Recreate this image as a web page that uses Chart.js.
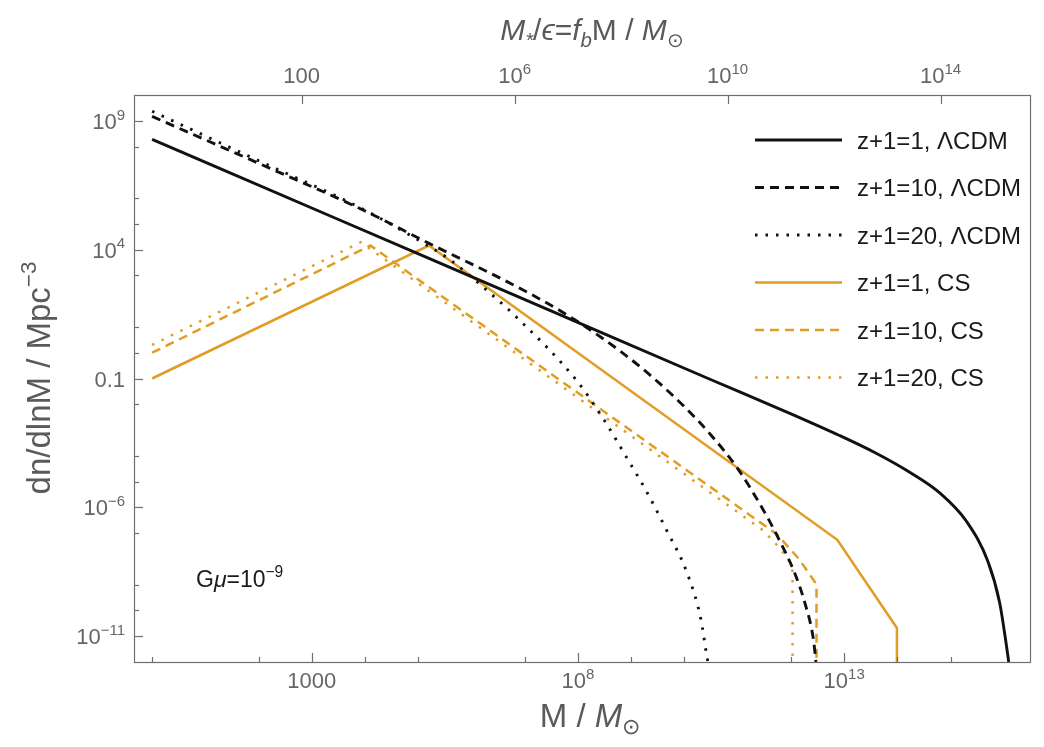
<!DOCTYPE html>
<html>
<head>
<meta charset="utf-8">
<script src="https://cdn.jsdelivr.net/npm/chart.js@4.4.0/dist/chart.umd.min.js"></script>
<style>
  html, body { margin: 0; padding: 0; background: #fff; }
</style>
</head>
<body>
<canvas id="myChart" width="1044" height="747"></canvas>
<script>
// values, stored as log10(M/Msun) and log10(dn/dlnM)
const lcdm1LogM = [0, 3.5, 7.1, 10.5, 12.0, 12.9, 13.6, 14.2, 14.8, 15.3, 15.7, 15.92, 16.05, 16.09]
const lcdm1LogN = [8.28, 5.17, 1.97, -1.05, -2.37, -3.2, -3.9, -4.6, -5.45, -6.55, -8.1, -9.7, -11.4, -12]

const lcdm10LogM = [0, 2, 3.98, 5.1, 7.1, 8.0, 8.8, 9.4, 10.0, 10.5, 11.0, 11.48, 11.74, 12.06, 12.26, 12.42, 12.47]
const lcdm10LogN = [9.17, 7.35, 5.52, 4.35, 2.29, 1.2, 0.05, -0.95, -2.1, -3.2, -4.5, -6.1, -7.1, -8.5, -9.7, -11.1, -12]

const lcdm20LogM = [0, 2, 3.98, 5.1, 5.6, 6.3, 6.86, 7.97, 8.49, 8.94, 9.27, 9.66, 10.05, 10.31, 10.41, 10.44]
const lcdm20LogN = [9.37, 7.45, 5.55, 4.25, 3.6, 2.4, 1.35, -1.07, -2.61, -4.16, -5.32, -6.87, -8.55, -10.36, -11.65, -12]

const cs1LogM = [0, 5.2, 12.87, 13.99, 13.99]
const cs1LogN = [-1, 4.16, -7.26, -10.68, -12]

const cs10LogM = [0, 4.1, 11.74, 12.15, 12.45, 12.48, 12.48]
const cs10LogN = [0, 4.16, -7.05, -8.0, -8.9, -9.1, -12]

const cs20LogM = [0, 3.92, 11.48, 11.8, 12.0, 12.03, 12.03]
const cs20LogN = [0.3, 4.29, -6.9, -7.6, -8.2, -8.5, -12]

const seriesLabels = ['z+1=1, \u039bCDM', 'z+1=10, \u039bCDM', 'z+1=20, \u039bCDM', 'z+1=1, CS', 'z+1=10, CS', 'z+1=20, CS']

// axis ticks
const fb = 0.155
const xMajor = [1e3, 1e8, 1e13]
const xMajorLabels = ['1000', '10^8', '10^13']
const xMinor = [1, 1e2, 1e4, 1e5, 1e7, 1e9, 1e10, 1e12, 1e14, 1e15]
const topMajor = [1e2, 1e6, 1e10, 1e14]
const topMajorLabels = ['100', '10^6', '10^10', '10^14']
const yMajor = [1e-11, 1e-6, 0.1, 1e4, 1e9]
const yMajorLabels = ['10^-11', '10^-6', '0.1', '10^4', '10^9']
const yMinor = [1e-10, 1e-9, 1e-7, 1e-5, 1e-4, 1e-2, 1, 10, 1e3, 1e5, 1e6, 1e8]

const xMin = Math.pow(10, -0.34)
const xMax = Math.pow(10, 16.49)
const yMin = 1e-12
const yMax = 1e10

const BLACK = '#111111'
const ORANGE = 'rgb(225,156,36)'
const DASH = [9, 6]
const DOT = [2.5, 8]

function toPoints(lm, ln) {
    return lm.map((m, i) => ({ x: Math.pow(10, m), y: Math.pow(10, ln[i]) }))
}

const datasets = [
    { label: seriesLabels[0], data: toPoints(lcdm1LogM, lcdm1LogN), borderColor: BLACK, borderWidth: 2.9, borderDash: [], cubicInterpolationMode: 'monotone' },
    { label: seriesLabels[1], data: toPoints(lcdm10LogM, lcdm10LogN), borderColor: BLACK, borderWidth: 2.9, borderDash: DASH, cubicInterpolationMode: 'monotone' },
    { label: seriesLabels[2], data: toPoints(lcdm20LogM, lcdm20LogN), borderColor: BLACK, borderWidth: 2.9, borderDash: DOT, cubicInterpolationMode: 'monotone' },
    { label: seriesLabels[3], data: toPoints(cs1LogM, cs1LogN), borderColor: ORANGE, borderWidth: 2.5, borderDash: [] },
    { label: seriesLabels[4], data: toPoints(cs10LogM, cs10LogN), borderColor: ORANGE, borderWidth: 2.5, borderDash: DASH },
    { label: seriesLabels[5], data: toPoints(cs20LogM, cs20LogN), borderColor: ORANGE, borderWidth: 2.5, borderDash: DOT }
]
datasets.forEach(d => { d.pointRadius = 0; d.fill = false; d.tension = 0 })

// small text helpers: runs of normal / italic / super / sub text
const FONT = '"Liberation Sans", Arial, sans-serif'
function parseLabel(s) {
    const i = s.indexOf('^')
    if (i < 0) return [{ t: s }]
    return [{ t: s.slice(0, i) }, { t: s.slice(i + 1).replace('-', '\u2212'), s: 1 }]
}
function fontFor(r, size) {
    const sz = r.s ? size * 0.68 : size
    return (r.it ? 'italic ' : '') + sz.toFixed(1) + 'px ' + FONT
}
function runsWidth(ctx, runs, size) {
    let w = 0
    runs.forEach(r => { ctx.font = fontFor(r, size); w += ctx.measureText(r.t).width })
    return w
}
function drawRuns(ctx, runs, x, y, size, align) {
    const w = runsWidth(ctx, runs, size)
    let cx = align === 'center' ? x - w / 2 : align === 'right' ? x - w : x
    ctx.textAlign = 'left'
    ctx.textBaseline = 'alphabetic'
    runs.forEach(r => {
        ctx.font = fontFor(r, size)
        const dy = r.s === 1 ? -size * 0.42 : r.s === -1 ? size * 0.22 : 0
        ctx.fillText(r.t, cx, y + dy)
        cx += ctx.measureText(r.t).width
    })
}

const decor = {
    id: 'decor',
    afterDraw(chart) {
        const ctx = chart.ctx
        const a = chart.chartArea
        const sx = chart.scales.x, st = chart.scales.x2, sy = chart.scales.y
        ctx.save()
        ctx.strokeStyle = '#6e6e6e'
        ctx.lineWidth = 1.2
        ctx.setLineDash([])
        ctx.strokeRect(a.left + 0.5, a.top + 0.5, a.right - a.left, a.bottom - a.top)

        const tick = (scale, v, len, side) => {
            const p = Math.round(scale.getPixelForValue(v)) + 0.5
            ctx.beginPath()
            if (side === 'b') { ctx.moveTo(p, a.bottom); ctx.lineTo(p, a.bottom - len) }
            if (side === 't') { ctx.moveTo(p, a.top); ctx.lineTo(p, a.top + len) }
            if (side === 'l') { ctx.moveTo(a.left, p); ctx.lineTo(a.left + len, p) }
            ctx.stroke()
        }
        xMajor.forEach(v => tick(sx, v, 9, 'b'))
        xMinor.forEach(v => tick(sx, v, 5, 'b'))
        topMajor.forEach(v => tick(st, v, 9, 't'))
        yMajor.forEach(v => tick(sy, v, 9, 'l'))
        yMinor.forEach(v => tick(sy, v, 5, 'l'))

        // tick labels
        ctx.fillStyle = '#666666'
        xMajor.forEach((v, i) => drawRuns(ctx, parseLabel(xMajorLabels[i]), sx.getPixelForValue(v), 688, 22, 'center'))
        topMajor.forEach((v, i) => drawRuns(ctx, parseLabel(topMajorLabels[i]), st.getPixelForValue(v), 83, 22, 'center'))
        yMajor.forEach((v, i) => drawRuns(ctx, parseLabel(yMajorLabels[i]), a.left - 9, sy.getPixelForValue(v) + 8, 22, 'right'))

        // axis titles
        ctx.fillStyle = '#5a5a5a'
        drawRuns(ctx, [{ t: 'M / ' }, { t: 'M', it: 1 }, { t: '\u2299', s: -1 }], (a.left + a.right) / 2 + 8, 727, 33, 'center')
        drawRuns(ctx, [{ t: 'M', it: 1 }, { t: '*', it: 1, s: -1 }, { t: '/' }, { t: '\u03f5', it: 1 }, { t: '=' },
            { t: 'f', it: 1 }, { t: 'b', it: 1, s: -1 }, { t: 'M / ' }, { t: 'M', it: 1 }, { t: '\u2299', s: -1 }],
            (a.left + a.right) / 2 + 10, 40, 30, 'center')
        ctx.save()
        ctx.translate(50, 378)
        ctx.rotate(-Math.PI / 2)
        drawRuns(ctx, [{ t: 'dn/dlnM / Mpc' }, { t: '\u22123', s: 1 }], 0, 0, 33, 'center')
        ctx.restore()

        // legend
        chart.data.datasets.forEach((d, i) => {
            const y = 140 + i * 47.5
            ctx.strokeStyle = d.borderColor
            ctx.lineWidth = d.borderWidth
            ctx.setLineDash(d.borderDash)
            ctx.beginPath()
            ctx.moveTo(755, y)
            ctx.lineTo(842, y)
            ctx.stroke()
            ctx.fillStyle = '#1a1a1a'
            drawRuns(ctx, [{ t: d.label }], 857, y + 8.5, 24, 'left')
        })
        ctx.setLineDash([])

        // annotation
        ctx.fillStyle = '#1a1a1a'
        drawRuns(ctx, [{ t: 'G' }, { t: '\u03bc', it: 1 }, { t: '=10' }, { t: '\u22129', s: 1 }], 196, 587, 23, 'left')
        ctx.restore()
    }
}

const hiddenAxis = { grid: { display: false }, border: { display: false }, ticks: { display: false } }

const config = {
    type: 'line',
    data: { datasets: datasets },
    options: {
        responsive: false,
        animation: false,
        layout: { padding: { left: 0, right: 14, top: 0, bottom: 0 } },
        plugins: { legend: { display: false }, tooltip: { enabled: false } },
        scales: {
            x: Object.assign({ type: 'logarithmic', position: 'bottom', min: xMin, max: xMax,
                afterFit: s => { s.height = 85 } }, hiddenAxis),
            x2: Object.assign({ type: 'logarithmic', position: 'top', min: xMin * fb, max: xMax * fb,
                afterFit: s => { s.height = 95 } }, hiddenAxis),
            y: Object.assign({ type: 'logarithmic', position: 'left', min: yMin, max: yMax,
                afterFit: s => { s.width = 134 } }, hiddenAxis)
        }
    },
    plugins: [decor]
}

const myChart = new Chart(document.getElementById('myChart'), config)
</script>
</body>
</html>
